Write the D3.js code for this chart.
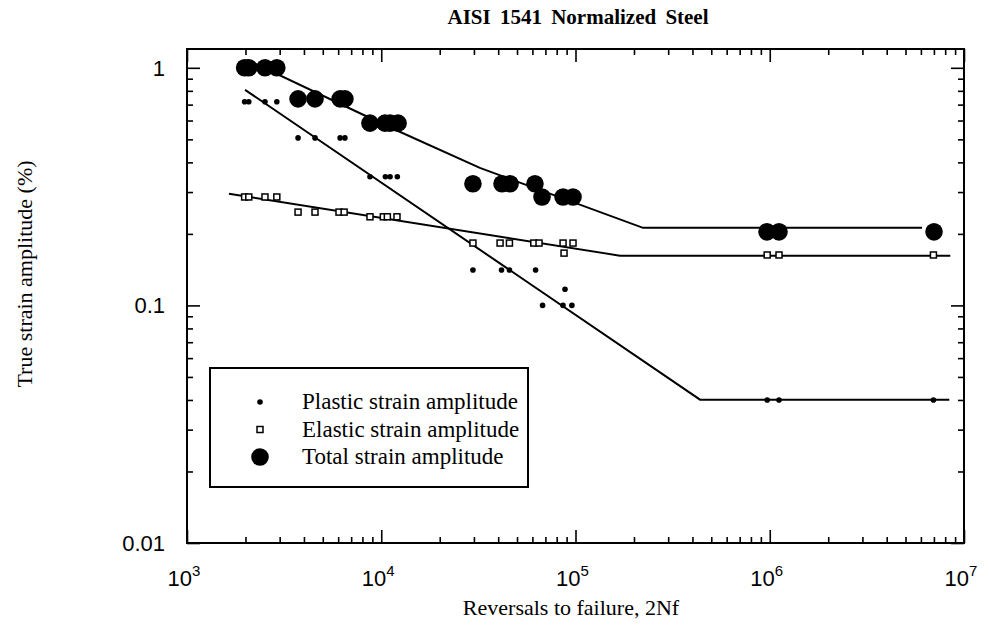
<!DOCTYPE html>
<html>
<head>
<meta charset="utf-8">
<script src="https://cdn.jsdelivr.net/npm/d3@7"></script>
<style>
  body { margin: 0; background: #fff; }
  svg { display: block; }
</style>
</head>
<body>
<div id="chart"></div>
<script>
// data
const plasticX = [1980, 2080, 2520, 2900, 3730, 4560, 6140, 6500, 8750, 10500, 11100, 12100,
                  29650, 41600, 45700, 62300, 88300, 67700, 86200, 95800, 970000, 1116000, 6960000];
const plasticY = [0.72, 0.72, 0.72, 0.72, 0.507, 0.507, 0.507, 0.507, 0.348, 0.348, 0.348, 0.348,
                  0.141, 0.141, 0.141, 0.141, 0.117, 0.1, 0.1, 0.1, 0.04, 0.04, 0.04];

const elasticX = [1980, 2080, 2520, 2900, 3730, 4560, 6060, 6440, 8750, 10250, 10750, 12050,
                  29650, 40900, 45700, 61000, 64900, 86300, 97100, 87300, 970000, 1116000, 6960000];
const elasticY = [0.286, 0.286, 0.286, 0.286, 0.247, 0.247, 0.247, 0.247, 0.236, 0.236, 0.236, 0.236,
                  0.183, 0.183, 0.183, 0.183, 0.183, 0.183, 0.183, 0.166, 0.163, 0.163, 0.163];

const totalX = [1980, 2080, 2520, 2900, 3730, 4560, 6140, 6500, 8750, 10450, 11100, 12200,
                29650, 41850, 46050, 61850, 67250, 86300, 97100, 968000, 1116000, 7010000];
const totalY = [1.0, 1.0, 1.0, 1.0, 0.74, 0.74, 0.74, 0.74, 0.585, 0.585, 0.585, 0.585,
                0.325, 0.325, 0.325, 0.325, 0.286, 0.286, 0.286, 0.204, 0.204, 0.204];

// fitted lines (vertices)
const plasticLineX = [1990, 437700, 8400000];
const plasticLineY = [0.808, 0.0401, 0.0401];
const elasticLineX = [1644, 169400, 8500000];
const elasticLineY = [0.295, 0.162, 0.162];
const totalLineX = [2036, 10700, 32200, 222600, 6080000];
const totalLineY = [1.08, 0.569, 0.379, 0.212, 0.212];

const xMajor = [1e3, 1e4, 1e5, 1e6, 1e7];
const xExp = ["3", "4", "5", "6", "7"];
const yMajor = [0.01, 0.1, 1];
const yLabels = ["0.01", "0.1", "1"];

const legendNames = ["Plastic strain amplitude", "Elastic strain amplitude", "Total strain amplitude"];

const width = 989;
const height = 634;
const plotLeft = 187, plotRight = 964, plotTop = 49, plotBottom = 543;

const serif = "'Liberation Serif', 'Times New Roman', serif";
const sans = "'Liberation Sans', Arial, sans-serif";

const x = d3.scaleLog().domain([1e3, 1e7]).range([plotLeft, plotRight]);
const y = d3.scaleLog().domain([0.01, 1.2]).range([plotBottom, plotTop]);

const svg = d3.select("#chart")
              .append("svg")
              .attr("width", width)
              .attr("height", height);

// title
svg.append("text")
   .attr("x", 578)
   .attr("y", 24)
   .attr("text-anchor", "middle")
   .attr("font-family", serif)
   .attr("font-weight", "bold")
   .attr("font-size", 21)
   .attr("word-spacing", 4)
   .text("AISI 1541 Normalized Steel");

// ticks, all pointing inward
const xMinor = x.ticks().filter(v => !xMajor.includes(v));
const yMinor = y.ticks().filter(v => !yMajor.some(m => Math.abs(m - v) < 1e-9));

function tickAxis(axisFn, scale, values, size, transform) {
  const g = svg.append("g")
               .attr("transform", transform)
               .call(axisFn(scale).tickValues(values).tickSize(-size).tickFormat(""));
  g.select(".domain").remove();
  g.selectAll("line").attr("stroke", "#000").attr("stroke-width", 1.6);
  return g;
}

tickAxis(d3.axisBottom, x, xMajor, 13, `translate(0,${plotBottom})`);
tickAxis(d3.axisBottom, x, xMinor, 6, `translate(0,${plotBottom})`);
tickAxis(d3.axisTop, x, xMajor, 13, `translate(0,${plotTop})`);
tickAxis(d3.axisTop, x, xMinor, 6, `translate(0,${plotTop})`);
tickAxis(d3.axisLeft, y, yMajor, 13, `translate(${plotLeft},0)`);
tickAxis(d3.axisLeft, y, yMinor, 6, `translate(${plotLeft},0)`);
tickAxis(d3.axisRight, y, yMajor, 13, `translate(${plotRight},0)`);
tickAxis(d3.axisRight, y, yMinor, 6, `translate(${plotRight},0)`);

// frame
svg.append("rect")
   .attr("x", plotLeft)
   .attr("y", plotTop)
   .attr("width", plotRight - plotLeft)
   .attr("height", plotBottom - plotTop)
   .attr("fill", "none")
   .attr("stroke", "#000")
   .attr("stroke-width", 2);

// tick labels
svg.selectAll(".ylab")
   .data(yMajor)
   .enter()
   .append("text")
    .attr("x", 165)
    .attr("y", d => y(d) + 8)
    .attr("text-anchor", "end")
    .attr("font-family", sans)
    .attr("font-size", 22)
    .text((d, i) => yLabels[i]);

const xl = svg.selectAll(".xlab")
              .data(xMajor)
              .enter()
              .append("text")
               .attr("x", d => x(d) - 3)
               .attr("y", 586)
               .attr("text-anchor", "middle")
               .attr("font-family", sans)
               .attr("font-size", 22);
xl.append("tspan").text("10");
xl.append("tspan")
  .attr("dy", -10)
  .attr("font-size", 15)
  .text((d, i) => xExp[i]);

// axis titles
svg.append("text")
   .attr("x", 571)
   .attr("y", 615)
   .attr("text-anchor", "middle")
   .attr("font-family", serif)
   .attr("font-size", 22)
   .text("Reversals to failure, 2Nf");

svg.append("text")
   .attr("transform", "translate(32,274) rotate(-90)")
   .attr("text-anchor", "middle")
   .attr("font-family", serif)
   .attr("font-size", 22)
   .text("True strain amplitude (%)");

// lines
const line = d3.line().x(d => x(d[0])).y(d => y(d[1]));
const lines = [
  d3.zip(plasticLineX, plasticLineY),
  d3.zip(elasticLineX, elasticLineY),
  d3.zip(totalLineX, totalLineY)
];
svg.selectAll(".fit")
   .data(lines)
   .enter()
   .append("path")
    .attr("d", line)
    .attr("fill", "none")
    .attr("stroke", "#000")
    .attr("stroke-width", 2);

// points
svg.selectAll(".total")
   .data(d3.zip(totalX, totalY))
   .enter()
   .append("circle")
    .attr("cx", d => x(d[0]))
    .attr("cy", d => y(d[1]))
    .attr("r", 8.8)
    .attr("fill", "#000");

svg.selectAll(".plastic")
   .data(d3.zip(plasticX, plasticY))
   .enter()
   .append("circle")
    .attr("cx", d => x(d[0]))
    .attr("cy", d => y(d[1]))
    .attr("r", 2.8)
    .attr("fill", "#000");

svg.selectAll(".elastic")
   .data(d3.zip(elasticX, elasticY))
   .enter()
   .append("rect")
    .attr("x", d => x(d[0]) - 3)
    .attr("y", d => y(d[1]) - 3)
    .attr("width", 6)
    .attr("height", 6)
    .attr("fill", "#fff")
    .attr("stroke", "#000")
    .attr("stroke-width", 1.5);

// legend
const legend = svg.append("g").attr("transform", "translate(210,368)");
legend.append("rect")
      .attr("width", 318)
      .attr("height", 119)
      .attr("fill", "#fff")
      .attr("stroke", "#000")
      .attr("stroke-width", 2);

const rows = legend.selectAll(".row")
                   .data(legendNames)
                   .enter()
                   .append("g")
                    .attr("transform", (d, i) => `translate(0,${34 + i * 27.5})`);
rows.append("text")
    .attr("x", 92)
    .attr("y", 7)
    .attr("font-family", serif)
    .attr("font-size", 23)
    .text(d => d);

rows.filter((d, i) => i === 0).append("circle").attr("cx", 50).attr("r", 2.8).attr("fill", "#000");
rows.filter((d, i) => i === 1).append("rect")
    .attr("x", 47).attr("y", -3).attr("width", 6).attr("height", 6)
    .attr("fill", "#fff").attr("stroke", "#000").attr("stroke-width", 1.5);
rows.filter((d, i) => i === 2).append("circle").attr("cx", 50).attr("r", 8.8).attr("fill", "#000");
</script>
</body>
</html>
